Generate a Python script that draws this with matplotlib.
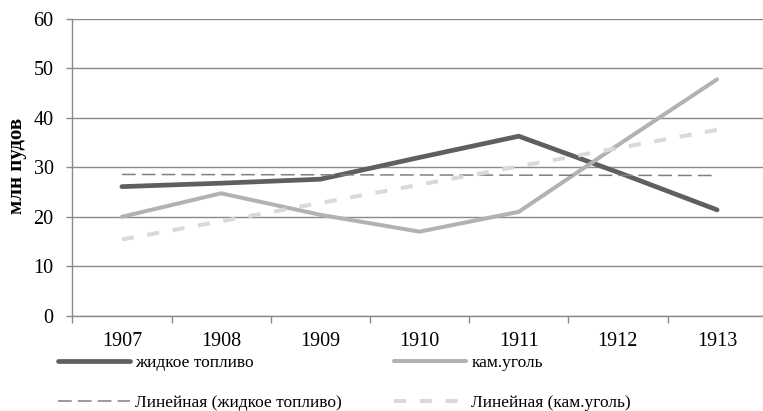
import numpy as np
import matplotlib
matplotlib.use("Agg")
import matplotlib.pyplot as plt

plt.rcParams['font.family'] = ['Liberation Serif', 'DejaVu Serif']

years = ['1907', '1908', '1909', '1910', '1911', '1912', '1913']
liquid_fuel = [26.1, 26.8, 27.6, 32.0, 36.3, 29.0, 21.4]
coal = [20.0, 24.75, 20.4, 17.0, 21.0, 34.5, 47.8]

label_liquid = 'жидкое топливо'
label_coal = 'кам.уголь'
label_liquid_trend = 'Линейная (жидкое топливо)'
label_coal_trend = 'Линейная (кам.уголь)'

x = np.arange(len(years))

# linear trend lines, as Excel draws them
liquid_fit = np.polyval(np.polyfit(x, liquid_fuel, 1), x)
coal_fit = np.polyval(np.polyfit(x, coal, 1), x)

fig = plt.figure(figsize=(7.63, 4.11), dpi=100)
ax = fig.add_axes([72.3 / 763, 1 - 315.7 / 411, (99.2 * 7) / 763, (315.7 - 19) / 411])

ax.yaxis.grid(True, color='#8a8a8a', linewidth=1.0)
ax.set_axisbelow(True)

l1, = ax.plot(x, liquid_fuel, color='#5f5f5f', linewidth=3.4, solid_capstyle='round',
              solid_joinstyle='round', label=label_liquid, zorder=3)
l2, = ax.plot(x, coal, color='#b2b2b2', linewidth=2.9, solid_capstyle='round',
              solid_joinstyle='round', label=label_coal, zorder=3)
t1, = ax.plot(x, liquid_fit, color='#808080', linewidth=1.1, dashes=(9, 4),
              label=label_liquid_trend, zorder=4)
t2, = ax.plot(x, coal_fit, color='#d9d9d9', linewidth=2.9, dashes=(3.0, 3.4),
              label=label_coal_trend, zorder=4)

ax.set_xlim(-0.5, len(years) - 0.5)
ax.set_ylim(0, 60)
ax.set_yticks(range(0, 61, 10))
ax.set_xticks(x)
ax.set_xticklabels(years)
ax.set_xticks(np.arange(-0.5, len(years)), minor=True)

ax.tick_params(axis='x', which='major', length=0, pad=12, labelsize=14.5)
ax.tick_params(axis='x', which='minor', length=5, width=1.0, color='#8a8a8a', direction='out')
ax.tick_params(axis='y', length=4.5, width=1.0, color='#8a8a8a', pad=9, labelsize=14.5)

for side in ['top', 'right']:
    ax.spines[side].set_visible(False)
for side in ['left', 'bottom']:
    ax.spines[side].set_color('#8a8a8a')
    ax.spines[side].set_linewidth(1.0)

fig.text(17 / 763, 1 - 166 / 411, 'млн пудов', rotation=90, fontsize=15,
         fontweight='bold', ha='center', va='center')

fig.legend(handles=[l1, t1, l2, t2], ncol=2, frameon=False, fontsize=12.5,
           loc='upper left', bbox_to_anchor=(58 / 763, 1 - 355 / 411),
           handlelength=4.15, handletextpad=0.3, columnspacing=3.0,
           labelspacing=1.35, borderpad=0, borderaxespad=0)

fig.savefig('out.png', dpi=100)
